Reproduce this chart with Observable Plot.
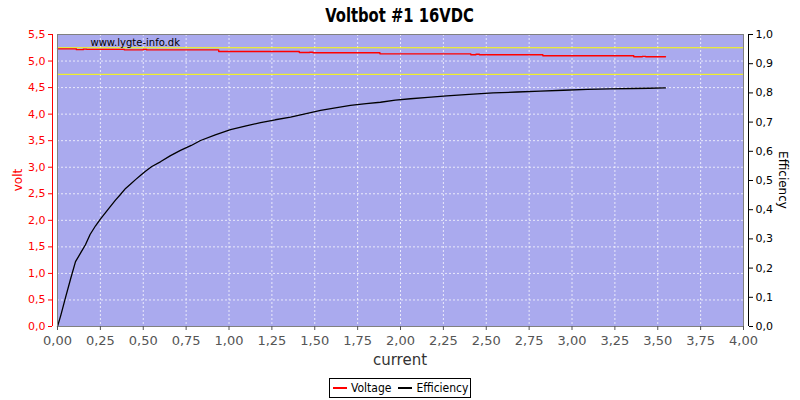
<!DOCTYPE html>
<html>
<head>
<meta charset="utf-8">
<script src="https://cdn.jsdelivr.net/npm/d3@7"></script>
<script src="https://cdn.jsdelivr.net/npm/@observablehq/plot@0.6"></script>
<style>
  body { margin: 0; background: #fff; }
  #wrap { position: relative; width: 800px; height: 400px; overflow: hidden; font-family: "DejaVu Sans", sans-serif; }
  #chart { position: absolute; left: 0; top: 0; }
  #title { position: absolute; left: 0; top: 3px; width: 800px; text-align: center; }
  #title span { display: inline-block; transform: scaleX(0.82); transform-origin: center;
           font: bold 20px "DejaVu Sans Condensed", "DejaVu Sans", sans-serif; color: #000; }
  .ylab { position: absolute; font-size: 12px; white-space: nowrap; transform-origin: center center; }
  #voltlab { left: 18px; top: 180px; color: red; transform: translate(-50%, -50%) rotate(-90deg); }
  #efflab { left: 783px; top: 180px; color: #000; transform: translate(-50%, -50%) rotate(90deg); }
  #xlab { position: absolute; left: 0; width: 800px; top: 351px; text-align: center; font-size: 15px; color: #333; }
  #legend { position: absolute; left: 329px; top: 378px; width: 142px; height: 20px; border: 1px solid #000;
            font: 12px "DejaVu Sans Condensed", "DejaVu Sans", sans-serif; display: flex; align-items: center;
            box-sizing: border-box; padding-left: 3px; white-space: nowrap; }
  .sw { display: inline-block; width: 14px; height: 2px; margin-right: 4px; }
  .item { display: inline-flex; align-items: center; margin-right: 7px; }
</style>
</head>
<body>
<div id="wrap">
  <div id="chart"></div>
  <div id="title"><span></span></div>
  <div id="voltlab" class="ylab"></div>
  <div id="efflab" class="ylab"></div>
  <div id="xlab"></div>
  <div id="legend"></div>
</div>
<script>
// ---- data ----
const titleText = "Voltbot #1 16VDC";
const xLabel = "current";
const yLeftLabel = "volt";
const yRightLabel = "Efficiency";
const watermark = "www.lygte-info.dk";
const seriesNames = ["Voltage", "Efficiency"];
const seriesColors = ["red", "black"];

const xTicks = [0, 0.25, 0.5, 0.75, 1, 1.25, 1.5, 1.75, 2, 2.25, 2.5, 2.75, 3, 3.25, 3.5, 3.75, 4];
const voltTicks = [0, 0.5, 1, 1.5, 2, 2.5, 3, 3.5, 4, 4.5, 5, 5.5];
const effTicks = [0, 0.1, 0.2, 0.3, 0.4, 0.5, 0.6, 0.7, 0.8, 0.9, 1.0];
const limitLines = [4.75, 5.25];

const voltCurrent = [0, 0.10, 0.11, 0.15, 0.17, 0.38, 0.39, 0.50, 0.52, 0.93, 0.94, 1.40, 1.41, 1.47, 1.49, 1.87, 1.88, 2.40, 2.41, 2.44, 2.46, 2.82, 2.83, 3.35, 3.36, 3.41, 3.43, 3.545];
const voltValue   = [5.23, 5.23, 5.215, 5.225, 5.22, 5.22, 5.21, 5.22, 5.21, 5.21, 5.18, 5.18, 5.16, 5.165, 5.155, 5.155, 5.136, 5.136, 5.12, 5.128, 5.118, 5.118, 5.10, 5.10, 5.08, 5.088, 5.08, 5.08];

const effCurrent = [0, 0.02, 0.047, 0.075, 0.105, 0.135, 0.163, 0.19, 0.222, 0.25, 0.28, 0.31, 0.338, 0.367, 0.397, 0.425, 0.455, 0.485, 0.513, 0.55, 0.6, 0.659, 0.717, 0.78, 0.834, 0.92, 1.009, 1.1, 1.184, 1.27, 1.359, 1.45, 1.534, 1.62, 1.708, 1.8, 1.883, 1.97, 2.058, 2.16, 2.27, 2.4, 2.54, 2.68, 2.816, 2.95, 3.09, 3.22, 3.36, 3.45, 3.545];
const effValue   = [0, 0.04, 0.10, 0.16, 0.222, 0.252, 0.28, 0.315, 0.345, 0.368, 0.39, 0.412, 0.433, 0.452, 0.473, 0.487, 0.503, 0.518, 0.532, 0.548, 0.564, 0.585, 0.603, 0.62, 0.637, 0.656, 0.674, 0.687, 0.698, 0.708, 0.717, 0.729, 0.740, 0.749, 0.757, 0.763, 0.768, 0.775, 0.780, 0.785, 0.790, 0.795, 0.800, 0.803, 0.806, 0.809, 0.812, 0.814, 0.815, 0.816, 0.817];

// ---- build ----
const vMax = voltTicks[voltTicks.length - 1];
const effMax = effTicks[effTicks.length - 1];
const toV = e => e / effMax * vMax;
const voltData = voltCurrent.map((c, i) => ({c, v: voltValue[i]}));
const effData = effCurrent.map((c, i) => ({c, e: effValue[i]}));
const fmt = (d, n) => d.toFixed(n).replace(".", ",");
const xMin = xTicks[0], xMax = xTicks[xTicks.length - 1];

const plot = Plot.plot({
  width: 800,
  height: 400,
  marginTop: 34,
  marginBottom: 74,
  marginLeft: 57,
  marginRight: 57,
  style: {fontFamily: "DejaVu Sans, sans-serif", background: "transparent"},
  x: {domain: [xMin, xMax]},
  y: {domain: [0, vMax]},
  marks: [
    Plot.frame({fill: "#aaaaee", stroke: null}),
    Plot.gridX(xTicks, {stroke: "white", strokeOpacity: 0.75, strokeDasharray: "2,2"}),
    Plot.gridY(voltTicks, {stroke: "white", strokeOpacity: 0.75, strokeDasharray: "2,2"}),
    Plot.ruleY(limitLines, {stroke: "#ffff00", strokeWidth: 1}),
    Plot.line(voltData, {x: "c", y: "v", stroke: seriesColors[0], strokeWidth: 1.4, curve: "step-after"}),
    Plot.line(effData, {x: "c", y: d => toV(d.e), stroke: seriesColors[1], strokeWidth: 1.3}),
    Plot.text([watermark], {frameAnchor: "top-left", dx: 33, dy: 4, textAnchor: "start", lineAnchor: "top", fontSize: 10, fill: "#000"}),
    Plot.frame({stroke: "#808080"}),
    Plot.axisX(xTicks, {tickFormat: d => fmt(d, 2), tickSize: 4, tickPadding: 5, fontSize: 13, color: "#555", label: null}),
    Plot.axisY(voltTicks, {anchor: "left", tickFormat: d => fmt(d, 1), tickSize: 4, tickPadding: 3, dx: -5, fontSize: 11, color: "red", label: null}),
    Plot.axisY(effTicks.map(toV), {anchor: "right", tickFormat: d => fmt(d / vMax * effMax, 1), tickSize: 4, tickPadding: 3, dx: 5, fontSize: 11, color: "#000", label: null}),
    Plot.ruleX([xMin], {y1: 0, y2: vMax, dx: -5, stroke: "red"}),
    Plot.ruleX([xMax], {y1: 0, y2: vMax, dx: 5, stroke: "#000"})
  ]
});
document.getElementById("chart").appendChild(plot);

document.querySelector("#title span").textContent = titleText;
document.getElementById("voltlab").textContent = yLeftLabel;
document.getElementById("efflab").textContent = yRightLabel;
document.getElementById("xlab").textContent = xLabel;
const leg = document.getElementById("legend");
seriesNames.forEach((n, i) => {
  const it = document.createElement("span");
  it.className = "item";
  const sw = document.createElement("span");
  sw.className = "sw";
  sw.style.background = seriesColors[i];
  it.appendChild(sw);
  it.appendChild(document.createTextNode(n));
  leg.appendChild(it);
});
</script>
</body>
</html>
